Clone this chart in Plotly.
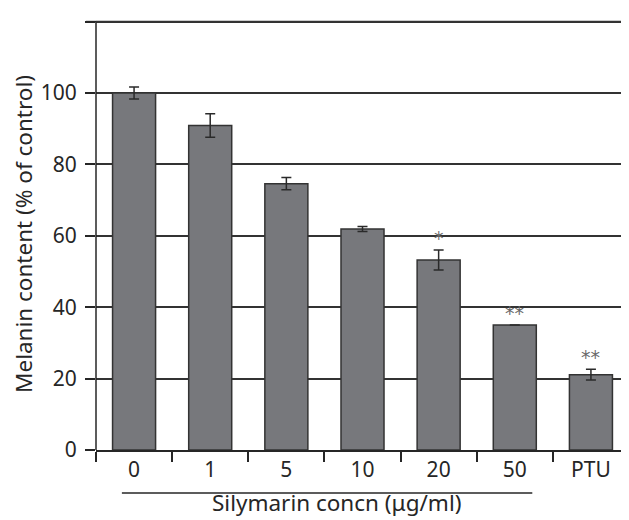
import plotly.graph_objects as go

categories = ["0", "1", "5", "10", "20", "50", "PTU"]
melanin = [100.0, 90.9, 74.6, 61.9, 53.2, 35.0, 21.1]
errors = [1.7, 3.3, 1.7, 0.7, 2.8, 0.0, 1.5]
significance = ["", "", "", "", "*", "**", "**"]
y_max = 120
y_step = 20
y_top = 121

FONT = "Noto Sans"
DARK = "#262626"
FS = 21
TFS = 22.5

fig = go.Figure()
fig.add_trace(go.Bar(
    x=categories, y=melanin,
    marker=dict(color="#77787c", line=dict(color="#333333", width=1.5)),
    error_y=dict(type="data", array=errors, visible=True, color="#2a2a2a",
                 thickness=1.5, width=5),
    width=0.565,
))

for i, (v, e, s) in enumerate(zip(melanin, errors, significance)):
    if s:
        fig.add_annotation(x=i, y=v + e, text=s, showarrow=False, xref="x", yref="y",
                           yanchor="middle", yshift=12,
                           font=dict(family="DejaVu Sans", size=19, color="#6a6a6a"))

# underline grouping the silymarin concentrations
fig.add_shape(type="line", xref="x", yref="paper", x0=-0.16, x1=5.23, y0=-43 / 432, y1=-43 / 432,
              line=dict(color=DARK, width=1.5))
fig.add_annotation(text="Silymarin concn (\u03bcg/ml)", xref="paper", yref="paper",
                   x=(336 - 96) / 533, y=-70 / 432, showarrow=False, yanchor="bottom",
                   font=dict(family=FONT, size=TFS, color=DARK))

fig.update_layout(
    width=621, height=512,
    margin=dict(l=88, r=0, t=10, b=70),
    paper_bgcolor="white", plot_bgcolor="white",
    showlegend=False,
    font=dict(family=FONT, size=FS, color=DARK),
    xaxis=dict(type="category", range=[-0.5, 6.5], showline=True, linecolor=DARK, linewidth=1.5,
               ticks="outside", tickson="boundaries", ticklen=10, tickwidth=1.5, tickcolor=DARK,
               showgrid=False, tickfont=dict(size=FS, color=DARK)),
    yaxis=dict(range=[0, y_top], tickmode="linear", tick0=0, dtick=y_step, showline=False,
               ticks="outside", ticklen=10, tickwidth=1.5, tickcolor=DARK,
               showgrid=True, gridcolor="#333333", gridwidth=1.5, zeroline=False,
               tickfont=dict(size=FS, color=DARK), ticklabelstandoff=4,
               title=dict(text="Melanin content (% of control)", font=dict(size=TFS, color=DARK),
                          standoff=8)),
)
# y axis line running from 0 to the top tick only
fig.add_shape(type="line", xref="paper", yref="y", x0=0, x1=0, y0=0, y1=y_max,
              line=dict(color=DARK, width=1.5))
# top grid line, tick and label (kept explicit so they are always drawn)
fig.add_shape(type="line", xref="paper", yref="paper", x0=0, x1=1,
              y0=y_max / y_top, y1=y_max / y_top, layer="above",
              line=dict(color="#333333", width=1.5))
fig.add_shape(type="line", xref="paper", yref="paper", x0=-10 / 533, x1=0,
              y0=y_max / y_top, y1=y_max / y_top, layer="above",
              line=dict(color=DARK, width=1.5))

fig.write_html("out.html", config={"displayModeBar": False})
